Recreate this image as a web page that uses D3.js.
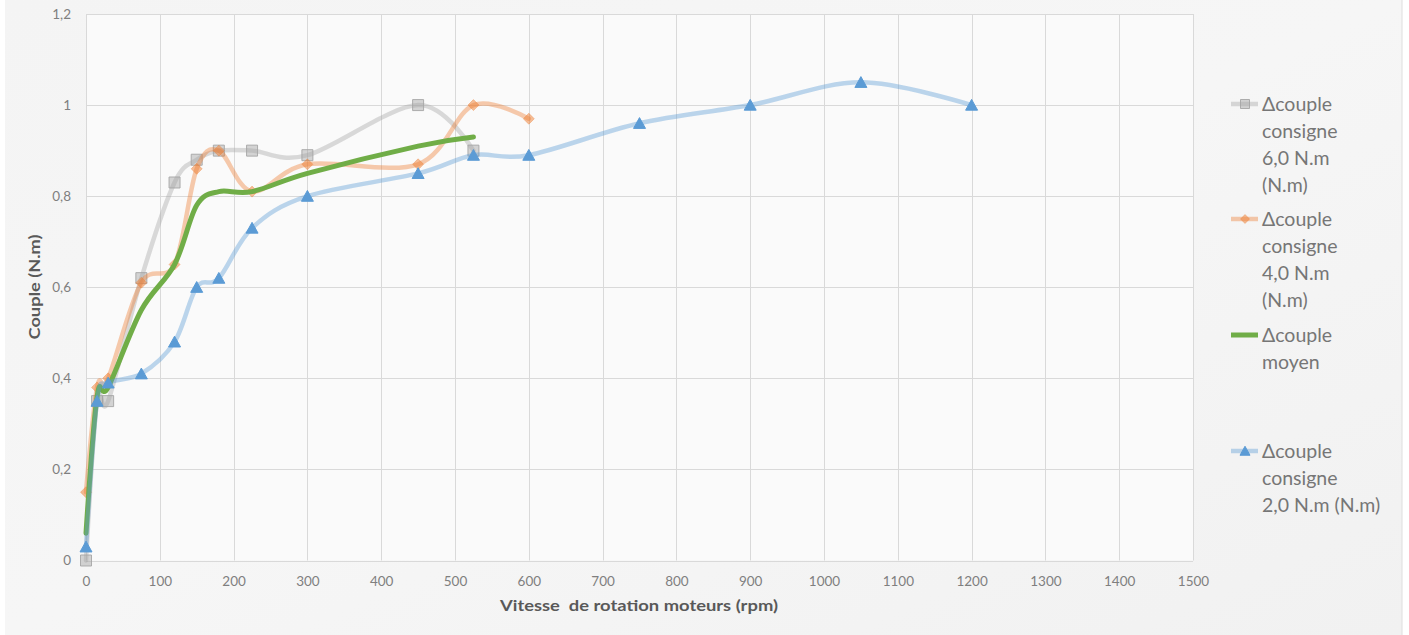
<!DOCTYPE html>
<html>
<head>
<meta charset="utf-8">
<script src="https://cdn.jsdelivr.net/npm/d3@7/dist/d3.min.js"></script>
<style>
  html, body { margin: 0; padding: 0; background: #ffffff; }
  svg { display: block; }
  text { font-family: Lato, "Open Sans", "Noto Sans", sans-serif; }
</style>
</head>
<body>
<svg id="chart" width="1409" height="635"></svg>
<script>
// Vitesse de rotation (rpm) and Δcouple (N.m) per consigne
const rpm6 = [0, 15, 30, 75, 120, 150, 180, 225, 300, 450, 525];
const couple6 = [0, 0.35, 0.35, 0.62, 0.83, 0.88, 0.90, 0.90, 0.89, 1.00, 0.90];

const rpm4 = [0, 15, 30, 75, 120, 150, 180, 225, 300, 450, 525, 600];
const couple4 = [0.15, 0.38, 0.40, 0.61, 0.65, 0.86, 0.90, 0.81, 0.87, 0.87, 1.00, 0.97];

const rpmMoyen = [0, 15, 30, 75, 120, 150, 180, 225, 300, 450, 525];
const coupleMoyen = [0.06, 0.36, 0.38, 0.55, 0.65, 0.78, 0.81, 0.81, 0.85, 0.91, 0.93];

const rpm2 = [0, 15, 30, 75, 120, 150, 180, 225, 300, 450, 525, 600, 750, 900, 1050, 1200];
const couple2 = [0.03, 0.35, 0.39, 0.41, 0.48, 0.60, 0.62, 0.73, 0.80, 0.85, 0.89, 0.89, 0.96, 1.00, 1.05, 1.00];

const xTicks = [0, 100, 200, 300, 400, 500, 600, 700, 800, 900, 1000, 1100, 1200, 1300, 1400, 1500];
const yTicks = [0, 0.2, 0.4, 0.6, 0.8, 1.0, 1.2];

const legendLabels = [
  ["Δcouple", "consigne", "6,0 N.m", "(N.m)"],
  ["Δcouple", "consigne", "4,0 N.m", "(N.m)"],
  ["Δcouple", "moyen"],
  ["Δcouple", "consigne", "2,0 N.m (N.m)"]
];

const xTitle = "Vitesse  de rotation moteurs (rpm)";
const yTitle = "Couple (N.m)";

const svg = d3.select("#chart");
const W = 1409, H = 635;
const plot = { left: 86, right: 1193, top: 14, bottom: 560.5 };

const defs = svg.append("defs");
const bg = defs.append("linearGradient").attr("id", "bgGrad")
  .attr("x1", 0).attr("y1", 0).attr("x2", 1).attr("y2", 1);
bg.append("stop").attr("offset", "0%").attr("stop-color", "#f4f4f4");
bg.append("stop").attr("offset", "50%").attr("stop-color", "#f6f6f6");
bg.append("stop").attr("offset", "100%").attr("stop-color", "#f1f1f1");

// chart area
svg.append("rect").attr("x", 5).attr("y", 0).attr("width", 1397).attr("height", H)
  .attr("fill", "url(#bgGrad)");
svg.append("line").attr("x1", 1402).attr("x2", 1402).attr("y1", 0).attr("y2", H)
  .attr("stroke", "#dedede").attr("stroke-width", 1);

const x = d3.scaleLinear().domain([0, 1500]).range([plot.left, plot.right]);
const y = d3.scaleLinear().domain([0, 1.2]).range([plot.bottom, plot.top]);

// plot area
svg.append("rect").attr("x", plot.left).attr("y", plot.top)
  .attr("width", plot.right - plot.left).attr("height", plot.bottom - plot.top)
  .attr("fill", "#fafafa");

// gridlines
const grid = svg.append("g").attr("stroke", "#d9d9d9").attr("stroke-width", 1);
grid.selectAll(".gx").data(xTicks).join("line")
  .attr("x1", d => Math.round(x(d)) + 0.5).attr("x2", d => Math.round(x(d)) + 0.5)
  .attr("y1", plot.top).attr("y2", plot.bottom);
grid.selectAll(".gy").data(yTicks).join("line")
  .attr("y1", d => Math.round(y(d)) + 0.5).attr("y2", d => Math.round(y(d)) + 0.5)
  .attr("x1", plot.left).attr("x2", plot.right);

// axes labels (no domain lines, no tick marks)
const fmt = d => d3.format(".1~f")(d).replace(".", ",");
const xAxis = d3.axisBottom(x).tickValues(xTicks).tickSize(0).tickPadding(14).tickFormat(d => d);
const yAxis = d3.axisLeft(y).tickValues(yTicks).tickSize(0).tickPadding(15).tickFormat(fmt);

const gx = svg.append("g").attr("transform", `translate(0,${plot.bottom + 2})`).call(xAxis);
const gy = svg.append("g").attr("transform", `translate(${plot.left},0)`).call(yAxis);
[gx, gy].forEach(g => {
  g.select(".domain").remove();
  g.selectAll("text").attr("fill", "#7f7f7f").style("font-size", "13.5px")
    .style("font-family", "Lato, 'Open Sans', sans-serif");
});

// axis titles
svg.append("text").attr("x", 639).attr("y", 611).attr("text-anchor", "middle")
  .attr("fill", "#595959").style("font-size", "15px").style("font-weight", "bold")
  .style("white-space", "pre")
  .attr("textLength", 278).attr("lengthAdjust", "spacingAndGlyphs")
  .text(xTitle);
svg.append("text").attr("transform", "translate(40,287) rotate(-90)")
  .attr("text-anchor", "middle")
  .attr("fill", "#595959").style("font-size", "15px").style("font-weight", "bold")
  .attr("textLength", 105).attr("lengthAdjust", "spacingAndGlyphs")
  .text(yTitle);

const curve = d3.curveCardinal.tension(0);
const line = d3.line().x(d => x(d[0])).y(d => y(d[1])).curve(curve);

const series = [
  { key: "c6", xs: rpm6, ys: couple6, stroke: "#a5a5a5", opacity: 0.4, width: 4.5, marker: "square",
    mFill: "#a5a5a5", mFillOp: 0.45, mStroke: "#a5a5a5", mStrokeOp: 0.9, mSize: 11 },
  { key: "c4", xs: rpm4, ys: couple4, stroke: "#ed7d31", opacity: 0.4, width: 4.5, marker: "diamond",
    mFill: "#ed7d31", mFillOp: 0.5, mStroke: "#ed7d31", mStrokeOp: 0.35, mSize: 11 },
  { key: "moy", xs: rpmMoyen, ys: coupleMoyen, stroke: "#70ad47", opacity: 1, width: 5, marker: null },
  { key: "c2", xs: rpm2, ys: couple2, stroke: "#5b9bd5", opacity: 0.4, width: 4.5, marker: "triangle",
    mFill: "#5b9bd5", mFillOp: 1, mStroke: "#5b9bd5", mStrokeOp: 1, mSize: 12 }
];

function markerPath(type, s) {
  const h = s / 2;
  if (type === "square") return `M${-h},${-h}H${h}V${h}H${-h}Z`;
  if (type === "diamond") return `M0,${-h}L${h},0L0,${h}L${-h},0Z`;
  if (type === "triangle") return `M0,${-h * 0.95}L${h},${h * 0.85}L${-h},${h * 0.85}Z`;
  return "";
}

const plotG = svg.append("g");
series.forEach(s => {
  const pts = s.xs.map((v, i) => [v, s.ys[i]]);
  const g = plotG.append("g").attr("class", s.key);
  g.append("path").datum(pts).attr("d", line)
    .attr("fill", "none").attr("stroke", s.stroke).attr("stroke-opacity", s.opacity)
    .attr("stroke-width", s.width).attr("stroke-linejoin", "round").attr("stroke-linecap", "round");
  if (s.marker) {
    g.selectAll("path.m").data(pts).join("path").attr("class", "m")
      .attr("transform", d => `translate(${x(d[0])},${y(d[1])})`)
      .attr("d", markerPath(s.marker, s.mSize))
      .attr("fill", s.mFill).attr("fill-opacity", s.mFillOp)
      .attr("stroke", s.mStroke).attr("stroke-opacity", s.mStrokeOp).attr("stroke-width", 1);
  }
});

// legend
const legendTops = [104, 219, 335, 451];
const lineStep = 27;
const legend = svg.append("g");
series.forEach((s, i) => {
  const cy = legendTops[i];
  const g = legend.append("g");
  g.append("line").attr("x1", 1231).attr("x2", 1258).attr("y1", cy).attr("y2", cy)
    .attr("stroke", s.stroke).attr("stroke-opacity", s.opacity).attr("stroke-width", s.width);
  if (s.marker) {
    g.append("path").attr("transform", `translate(1245,${cy})`)
      .attr("d", markerPath(s.marker, s.mSize - 2))
      .attr("fill", s.mFill).attr("fill-opacity", s.mFillOp)
      .attr("stroke", s.mStroke).attr("stroke-opacity", s.mStrokeOp).attr("stroke-width", 1);
  }
  legendLabels[i].forEach((t, j) => {
    g.append("text").attr("x", 1262).attr("y", cy + j * lineStep)
      .attr("dy", "0.36em").attr("fill", "#767676").style("font-size", "19.5px").text(t);
  });
});
</script>
</body>
</html>
